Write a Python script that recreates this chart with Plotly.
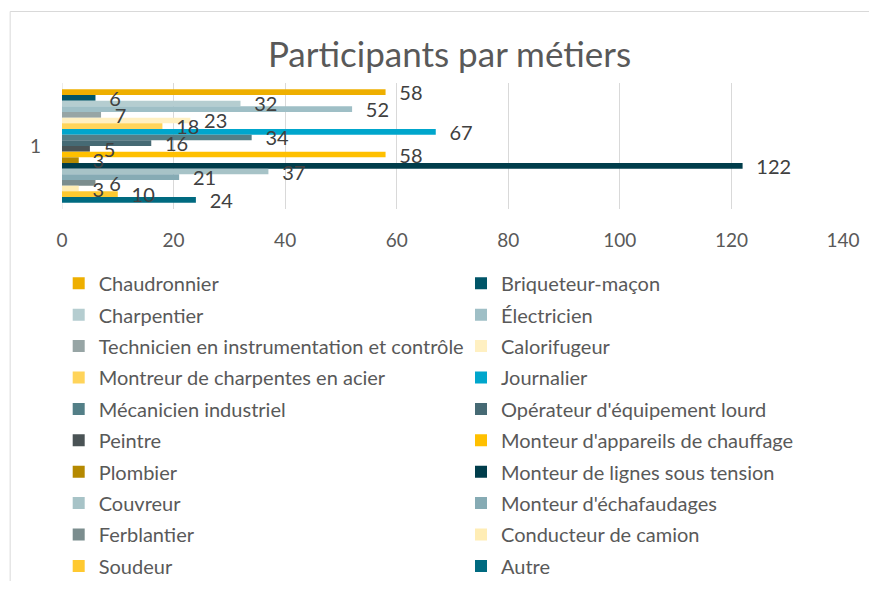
import plotly.graph_objects as go

categories = ["1"]
series_names = [
    "Chaudronnier", "Briqueteur-maçon", "Charpentier", "Électricien",
    "Technicien en instrumentation et contrôle", "Calorifugeur",
    "Montreur de charpentes en acier", "Journalier", "Mécanicien industriel",
    "Opérateur d'équipement lourd", "Peintre", "Monteur d'appareils de chauffage",
    "Plombier", "Monteur de lignes sous tension", "Couvreur",
    "Monteur d'échafaudages", "Ferblantier", "Conducteur de camion",
    "Soudeur", "Autre",
]
series_values = [58, 6, 32, 52, 7, 23, 18, 67, 34, 16, 5, 58, 3, 122, 37, 21, 6, 3, 10, 24]
series_colors = [
    "#EEAF00", "#005568", "#B5CDD0", "#9FBFC6", "#97A5A5", "#FFF0C2",
    "#FFD45A", "#00A6CC", "#537F87", "#466A74", "#4A5355", "#FFC000",
    "#B58900", "#003D4B", "#A7C3C7", "#86ABB4", "#7B8D8E", "#FFEDB5",
    "#FFC930", "#006A80",
]
x_ticks = [0, 20, 40, 60, 80, 100, 120, 140]
title_text = "Participants par métiers"

FONT = "Lato, Carlito, Calibri, sans-serif"
OFF = 8  # page body margin
W, H = 877 - OFF, 589 - 2 * OFF
# plot area in reference pixels, converted to figure pixels
L, R, T, B = 62.3 - OFF, 842.7 - OFF, 83 - OFF, 209 - OFF
PW, PH = R - L, B - T


def px_to_paper_x(p):
    return (p - OFF - L) / PW


def px_to_paper_y(p):
    return (B - (p - OFF)) / PH


fig = go.Figure()
# bars
for i, (name, val, col) in enumerate(zip(series_names, series_values, series_colors)):
    fig.add_trace(go.Bar(
        y=categories, x=[val], name=name, orientation="h",
        marker=dict(color=col, line=dict(width=0)),
        legend="legend" if i % 2 == 0 else "legend2",
        legendgroup=name,
        hoverinfo="skip",
    ))
# data labels, drawn on an overlaying axis so they sit above all bars
for i, (name, val) in enumerate(zip(series_names, series_values)):
    fig.add_trace(go.Bar(
        y=categories, x=[val], name=name, orientation="h", yaxis="y2",
        marker=dict(color="rgba(0,0,0,0)", line=dict(width=0)),
        text=[val], texttemplate="\u2002\u2009\u200a%{x}",
        textposition="outside", constraintext="none", cliponaxis=False,
        textfont=dict(family=FONT, size=20, color="#404040"),
        showlegend=False, hoverinfo="skip",
    ))

LEG_FS = 20
row_h = LEG_FS * 1.3 + 3
leg_top = 283.3 - 5 - row_h / 2
leg_common = dict(
    orientation="v", traceorder="grouped", tracegroupgap=31.4 - row_h,
    font=dict(family=FONT, size=LEG_FS, color="#595959"),
    bgcolor="rgba(0,0,0,0)", borderwidth=0, maxheight=450,
    xanchor="left", yanchor="top", y=px_to_paper_y(leg_top),
)

fig.update_layout(
    width=W, height=H,
    margin=dict(l=L, r=W - R, t=T, b=H - B, autoexpand=False),
    paper_bgcolor="white", plot_bgcolor="white",
    barmode="group", bargap=0.1, bargroupgap=0,
    title=dict(text=title_text, x=px_to_paper_x(449.5), xref="paper", xanchor="center",
               y=1 - (55 - OFF) / H, yref="container", yanchor="middle",
               font=dict(family=FONT, size=35, color="#595959")),
    xaxis=dict(range=[0, 140], tickvals=x_ticks, showgrid=True, gridcolor="#D9D9D9",
               gridwidth=1, zeroline=False, showline=False, ticks="",
               ticklabelstandoff=18,
               tickfont=dict(family=FONT, size=19, color="#595959")),
    yaxis=dict(type="category", autorange="reversed", showgrid=False, zeroline=False,
               showline=False, ticks="", ticklabelstandoff=20,
               tickfont=dict(family=FONT, size=19, color="#595959")),
    yaxis2=dict(type="category", autorange="reversed", overlaying="y", showgrid=False,
                zeroline=False, showline=False, showticklabels=False, ticks=""),
    legend=dict(x=px_to_paper_x(59), **leg_common),
    legend2=dict(x=px_to_paper_x(461), **leg_common),
    shapes=[
        dict(type="line", xref="paper", yref="paper",
             x0=px_to_paper_x(10.5), x1=px_to_paper_x(900),
             y0=px_to_paper_y(11.5), y1=px_to_paper_y(11.5),
             line=dict(color="#D9D9D9", width=1)),
        dict(type="line", xref="paper", yref="paper",
             x0=px_to_paper_x(10.5), x1=px_to_paper_x(10.5),
             y0=px_to_paper_y(11.5), y1=px_to_paper_y(600),
             line=dict(color="#D9D9D9", width=1)),
        dict(type="line", xref="x", yref="paper", x0=0, x1=0, y0=0, y1=1,
             line=dict(color="#D9D9D9", width=1), layer="below"),
    ],
    showlegend=True,
)

fig.write_html("out.html")
